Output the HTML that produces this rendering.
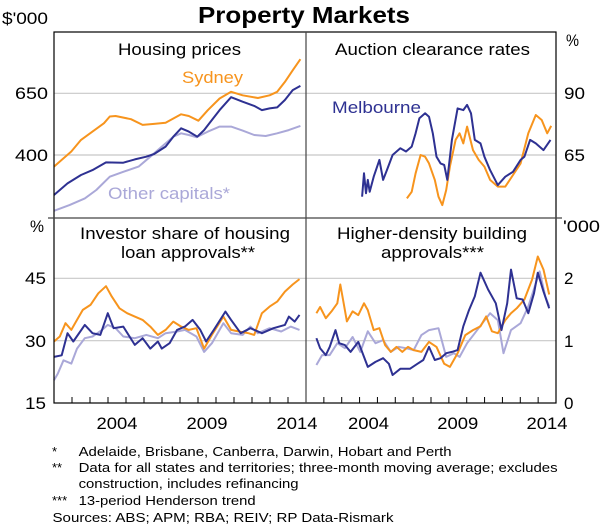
<!DOCTYPE html>
<html><head><meta charset="utf-8"><style>
html,body{margin:0;padding:0;background:#fff;}
svg{display:block;font-family:"Liberation Sans",Arial,sans-serif;}
</style></head><body>
<svg id="chart" width="600" height="526" viewBox="0 0 600 526">
<text x="198" y="23" font-size="23" font-weight="bold" textLength="212" lengthAdjust="spacingAndGlyphs">Property Markets</text>
<g id="grid"></g>
<g id="series"></g>
<g id="frame">
<rect x="54" y="32" width="502" height="371" fill="none" stroke="#000" stroke-width="1.2"/>
<line x1="306" y1="32" x2="306" y2="403" stroke="#444" stroke-width="1.2"/>
<line x1="48" y1="218" x2="562" y2="218" stroke="#444" stroke-width="1.2"/>
</g>
<g id="ticks"></g>
<g font-size="17" fill="#000" lengthAdjust="spacingAndGlyphs">
<text x="2" y="24" textLength="46" lengthAdjust="spacingAndGlyphs">$'000</text>
<text x="15" y="99" textLength="33" lengthAdjust="spacingAndGlyphs">650</text>
<text x="15" y="161" textLength="33" lengthAdjust="spacingAndGlyphs">400</text>
<text x="566" y="46" textLength="13" lengthAdjust="spacingAndGlyphs">%</text>
<text x="564" y="99" textLength="21" lengthAdjust="spacingAndGlyphs">90</text>
<text x="564" y="161" textLength="21" lengthAdjust="spacingAndGlyphs">65</text>
<text x="30" y="232" textLength="14" lengthAdjust="spacingAndGlyphs">%</text>
<text x="25" y="284" textLength="21" lengthAdjust="spacingAndGlyphs">45</text>
<text x="25" y="347" textLength="21" lengthAdjust="spacingAndGlyphs">30</text>
<text x="25" y="409" textLength="21" lengthAdjust="spacingAndGlyphs">15</text>
<text x="563" y="232" textLength="37" lengthAdjust="spacingAndGlyphs">'000</text>
<text x="564" y="284">2</text>
<text x="564" y="347">1</text>
<text x="564" y="409">0</text>
<text x="118" y="55" textLength="123" lengthAdjust="spacingAndGlyphs">Housing prices</text>
<text x="335" y="55" textLength="195" lengthAdjust="spacingAndGlyphs">Auction clearance rates</text>
<text x="80" y="239" textLength="210" lengthAdjust="spacingAndGlyphs">Investor share of housing</text>
<text x="121" y="258" textLength="134" lengthAdjust="spacingAndGlyphs">loan approvals**</text>
<text x="337" y="239" textLength="190" lengthAdjust="spacingAndGlyphs">Higher-density building</text>
<text x="381" y="258" textLength="103" lengthAdjust="spacingAndGlyphs">approvals***</text>
<text x="182" y="83" textLength="61" lengthAdjust="spacingAndGlyphs" fill="#f7941d">Sydney</text>
<text x="108" y="199" textLength="122" lengthAdjust="spacingAndGlyphs" fill="#aaa8d8">Other capitals*</text>
<text x="332" y="113" textLength="89" lengthAdjust="spacingAndGlyphs" fill="#2e3192">Melbourne</text>
</g>
<g id="xlabels" font-size="17"></g>
<g font-size="13" fill="#000">
<text x="52" y="456">*</text>
<text x="78.6" y="456" textLength="373" lengthAdjust="spacingAndGlyphs">Adelaide, Brisbane, Canberra, Darwin, Hobart and Perth</text>
<text x="52" y="472">**</text>
<text x="78.6" y="472" textLength="479" lengthAdjust="spacingAndGlyphs">Data for all states and territories; three-month moving average; excludes</text>
<text x="78.6" y="488" textLength="220" lengthAdjust="spacingAndGlyphs">construction, includes refinancing</text>
<text x="52" y="505">***</text>
<text x="78.6" y="505" textLength="177" lengthAdjust="spacingAndGlyphs">13-period Henderson trend</text>
<text x="52.5" y="522" textLength="341" lengthAdjust="spacingAndGlyphs">Sources: ABS; APM; RBA; REIV; RP Data-Rismark</text>
</g>
</svg>
<script>
// ---- data ----
const hpSydYears=[2001.0,2001.43,2001.96,2002.5,2003.14,2003.78,2004.1,2004.42,2005.28,2005.92,2006.56,2007.2,2008.06,2008.49,2009.02,2009.55,2010.2,2010.84,2011.48,2012.33,2012.98,2013.4,2013.83,2014.26,2014.69];
const hpSydVals=[353,380,414,461,495,529,556,558,545,522,526,531,565,558,539,582,629,656,642,631,642,656,696,743,788];
const hpMelYears=[2001,2001.75,2002.5,2003.14,2003.89,2004.85,2005.49,2006.13,2006.56,2007.2,2007.63,2008.06,2008.49,2008.96,2009.34,2009.77,2010.2,2010.84,2011.48,2012.12,2012.55,2012.98,2013.4,2013.83,2014.26,2014.69];
const hpMelVals=[238,285,319,339,370,369,382,393,404,434,474,508,495,474,501,542,582,634,616,599,582,589,593,623,663,680];
const hpOthYears=[2001,2001.86,2002.71,2003.35,2004.1,2004.85,2005.7,2006.35,2006.99,2007.63,2008.06,2008.49,2008.91,2009.55,2010.2,2010.84,2011.48,2012.12,2012.76,2013.4,2014.04,2014.69];
const hpOthVals=[174,197,224,258,312,332,353,393,434,474,488,481,472,495,515,515,499,481,477,488,501,518];
const acMelYears=[2004.14,2004.25,2004.36,2004.46,2004.57,2004.79,2005.11,2005.32,2005.53,2005.85,2006.28,2006.6,2006.92,2007.14,2007.35,2007.67,2007.89,2008.1,2008.31,2008.53,2008.74,2008.91,2009.17,2009.49,2009.81,2010.02,2010.24,2010.45,2010.77,2010.99,2011.31,2011.74,2012.16,2012.59,2013.02,2013.23,2013.55,2013.87,2014.3,2014.69];
const acMelVals=[48.1,57.6,49.5,54.9,50.1,56.2,63.0,54.9,58.9,65,67.7,66.4,68.4,73.8,79.9,81.9,80.5,73.8,64.3,61.6,61.0,54.9,71.1,83.9,83.2,85.3,81.9,71.1,69.7,64.3,58.9,52.8,56.2,58.2,63.0,64.3,71.1,69.7,67.0,71.1];
const acSydYears=[2006.65,2006.92,2007.14,2007.42,2007.67,2007.89,2008.21,2008.42,2008.63,2008.85,2009.06,2009.38,2009.6,2009.81,2010.02,2010.35,2010.67,2010.99,2011.31,2011.74,2012.16,2012.59,2013.02,2013.45,2013.87,2014.2,2014.51,2014.73];
const acSydVals=[47.4,50.1,57.6,65,64.3,61.6,54.9,48.1,44.7,50.8,60.3,71.1,73.8,69.7,76.5,67.0,63.0,60.3,54.9,52.2,52.2,56.9,61.6,73.8,81.2,79.2,73.8,76.8];
const invSydYears=[2001.0,2001.32,2001.64,2001.96,2002.28,2002.6,2003.03,2003.46,2003.89,2004.21,2004.64,2005.06,2005.49,2005.92,2006.35,2006.77,2007.2,2007.63,2008.06,2008.49,2008.91,2009.34,2009.77,2010.41,2010.84,2011.27,2011.8,2012.12,2012.55,2012.98,2013.4,2013.83,2014.26,2014.64];
const invSydVals=[29.8,31.0,34.2,32.6,35.0,37.4,38.6,41.4,43.1,40.6,37.8,36.6,35.8,35.0,33.4,31.4,32.6,34.6,33.4,32.6,33.0,28.1,31.4,35.8,32.6,32.2,31.8,31.4,36.6,38.2,39.4,41.8,43.5,44.8];
const invMelYears=[2001.0,2001.43,2001.75,2002.07,2002.71,2003.14,2003.57,2003.99,2004.31,2004.85,2005.49,2005.92,2006.35,2006.77,2006.99,2007.42,2007.84,2008.27,2008.7,2009.13,2009.45,2009.88,2010.52,2010.84,2011.37,2011.91,2012.55,2013.19,2013.83,2014.05,2014.37,2014.64];
const invMelVals=[26.1,26.5,31.8,29.8,33.8,31.8,31.4,36.6,33.0,33.4,29.0,30.6,28.1,29.8,28.1,29.4,32.6,33.4,35.0,32.6,29.8,32.6,37.0,35.0,31.8,33.0,31.8,33.0,33.8,35.8,34.6,36.2];
const invOthYears=[2001,2001.21,2001.53,2001.96,2002.28,2002.71,2003.14,2003.67,2003.99,2004.42,2004.85,2005.49,2006.13,2006.77,2007.2,2007.84,2008.27,2008.91,2009.34,2009.77,2010.41,2010.84,2011.48,2011.91,2012.33,2012.98,2013.62,2014.15,2014.64];
const invOthVals=[20.5,22.1,25.3,24.5,28.1,30.6,31.0,32.6,33.8,33.0,31.0,30.6,31.4,30.6,31.8,32.2,32.6,31.0,27.3,29.4,34.2,31.8,31.4,33.4,31.8,33.0,32.2,33.4,32.6];
const hdSydYears=[2001.58,2001.79,2002.11,2002.43,2002.75,2002.92,2003.07,2003.29,2003.61,2003.93,2004.25,2004.46,2004.79,2005.11,2005.43,2005.75,2006.07,2006.39,2006.71,2007.03,2007.46,2007.89,2008.31,2008.74,2009.06,2009.49,2009.92,2010.35,2010.77,2011.09,2011.41,2011.74,2012.16,2012.48,2012.8,2013.23,2013.66,2013.98,2014.3,2014.62];
const hdSydVals=[1.44,1.54,1.36,1.47,1.60,1.90,1.66,1.31,1.47,1.41,1.60,1.49,1.17,1.20,0.93,0.82,0.90,0.82,0.90,0.85,0.82,0.98,0.90,0.63,0.58,0.80,1.09,1.17,1.23,1.39,1.15,1.12,1.33,1.44,1.52,1.66,1.98,2.35,2.14,1.74];
const hdMelYears=[2001.58,2001.79,2002.11,2002.33,2002.65,2002.86,2003.18,2003.5,2003.93,2004.46,2004.89,2005.32,2005.64,2005.85,2006.28,2006.82,2007.24,2007.57,2007.89,2008.21,2008.53,2008.85,2009.17,2009.49,2009.81,2010.13,2010.45,2010.77,2011.2,2011.63,2011.95,2012.27,2012.48,2012.8,2013.13,2013.45,2013.77,2013.98,2014.3,2014.62];
const hdMelVals=[1.04,0.88,0.77,0.90,1.17,0.96,0.93,0.82,0.98,0.58,0.66,0.72,0.63,0.45,0.55,0.55,0.63,0.69,0.90,0.69,0.72,0.80,0.82,0.85,1.23,1.49,1.71,2.09,1.82,1.60,1.17,1.60,2.14,1.68,1.66,1.44,1.76,2.09,1.79,1.52];
const hdOthYears=[2001.58,2001.9,2002.33,2002.75,2003.18,2003.61,2004.04,2004.46,2004.89,2005.32,2005.75,2006.18,2006.6,2007.03,2007.46,2007.89,2008.42,2008.85,2009.28,2009.6,2010.02,2010.45,2010.88,2011.31,2011.74,2012.06,2012.48,2013.02,2013.45,2013.87,2014.08,2014.4,2014.62];
const hdOthVals=[0.61,0.77,0.77,0.96,0.88,1.06,0.82,1.15,0.96,1.01,0.82,0.90,0.88,0.85,1.09,1.17,1.20,0.74,0.80,0.74,0.96,1.12,1.28,1.44,1.33,0.80,1.17,1.28,1.55,1.92,2.11,1.71,1.55];
const yearLabels=["2004","2009","2014"];
const labelYears=[2004,2009,2014];

// ---- scales ----
const X0=2001, X1=2015;
function xs(left,w){return t=>left+(t-X0)/(X1-X0)*w;}
function ys(v0,y0,v1,y1){return v=>y0+(v-v0)/(v1-v0)*(y1-y0);}
const panels={
 tl:{x:xs(54,252),y:ys(400,155,650,93.3)},
 tr:{x:xs(306,250),y:ys(65,155,90,93.3)},
 bl:{x:xs(54,252),y:ys(30,340.7,45,278.3)},
 br:{x:xs(306,250),y:ys(1,340.7,2,278.3)}
};
const NS="http://www.w3.org/2000/svg";
const grid=document.getElementById('grid');
const ser=document.getElementById('series');
const ticks=document.getElementById('ticks');
const xl=document.getElementById('xlabels');
function mk(tag,attrs,parent){const e=document.createElementNS(NS,tag);for(const k in attrs)e.setAttribute(k,attrs[k]);parent.appendChild(e);return e;}
[93.3,155,278.3,340.7].forEach((gy,i)=>{
 const g=mk('line',{x1:54,x2:556,y1:gy,y2:gy,stroke:'#c8c8c8','stroke-width':1.2},grid);
 
 
});
function line(p,years,vals,color,name){
 const P=panels[p];
 const d=years.map((t,i)=>(i?'L':'M')+P.x(t).toFixed(1)+','+P.y(vals[i]).toFixed(1)).join('');
 const e=mk('path',{d:d,fill:'none',stroke:color,'stroke-width':2,'stroke-linejoin':'round'},ser);
 
 
}
const OR='#f7941d',NV='#2e3192',LV='#aaa8d8';
line('tl',hpOthYears,hpOthVals,LV,'line-housing-other-capitals');
line('tl',hpMelYears,hpMelVals,NV,'line-housing-melbourne');
line('tl',hpSydYears,hpSydVals,OR,'line-housing-sydney');
line('tr',acSydYears,acSydVals,OR,'line-auction-sydney');
line('tr',acMelYears,acMelVals,NV,'line-auction-melbourne');
line('bl',invOthYears,invOthVals,LV,'line-investor-other');
line('bl',invSydYears,invSydVals,OR,'line-investor-sydney');
line('bl',invMelYears,invMelVals,NV,'line-investor-melbourne');
line('br',hdOthYears,hdOthVals,LV,'line-density-other');
line('br',hdSydYears,hdSydVals,OR,'line-density-sydney');
line('br',hdMelYears,hdMelVals,NV,'line-density-melbourne');
['bl','br'].forEach(p=>{
 const P=panels[p];
 for(let t=X0+1;t<X1;t++){
  const x=P.x(t);
  const e=mk('line',{x1:x,x2:x,y1:397,y2:403,stroke:'#000','stroke-width':1},ticks);
  
  
 }
 labelYears.forEach((t,i)=>{
  const e=mk('text',{x:P.x(t+0.5),y:429,'text-anchor':'middle',textLength:41,lengthAdjust:'spacingAndGlyphs'},xl);
  e.textContent=yearLabels[i];
  
  
 });
});
</script>
</body></html>
